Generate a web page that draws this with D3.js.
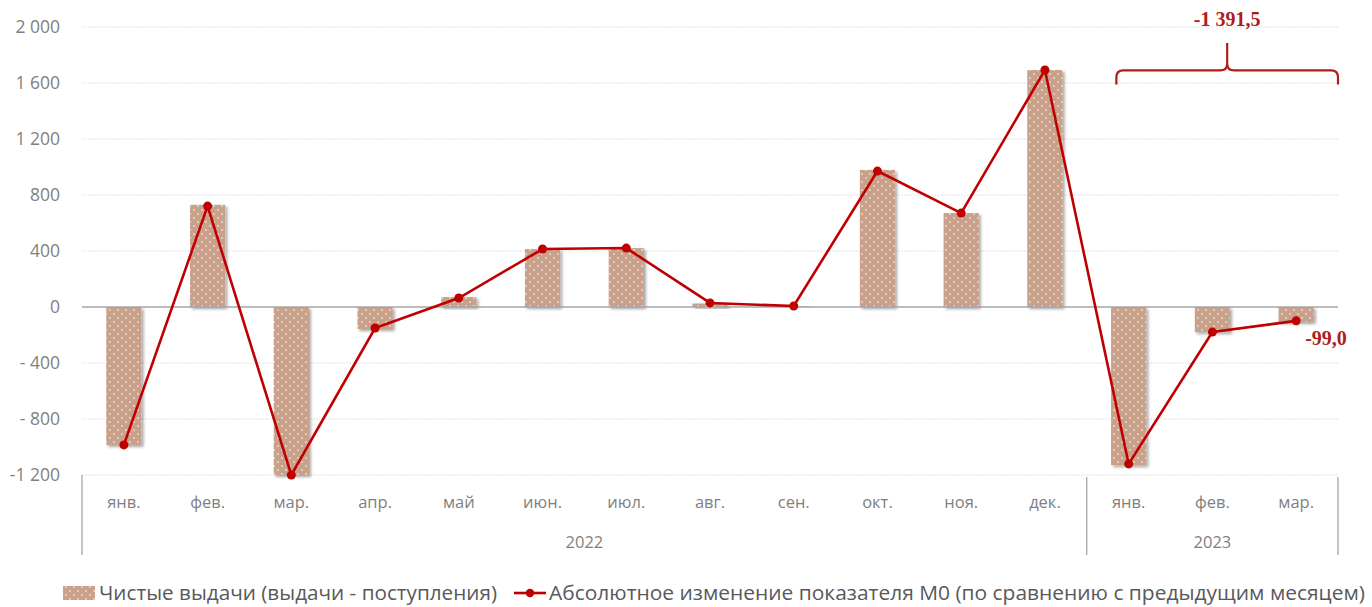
<!DOCTYPE html>
<html>
<head>
<meta charset="utf-8">
<script src="https://cdn.jsdelivr.net/npm/d3@7"></script>
<style>
  body { margin: 0; background: #fff; }
  svg { display: block; font-family: "Open Sans", "Noto Sans", sans-serif; }
</style>
</head>
<body>
<div id="chart"></div>
<script>
// Months shown on the x axis and the year each one belongs to.
const months = ['янв.', 'фев.', 'мар.', 'апр.', 'май', 'июн.', 'июл.', 'авг.', 'сен.', 'окт.', 'ноя.', 'дек.', 'янв.', 'фев.', 'мар.'];
const years = ['2022', '2022', '2022', '2022', '2022', '2022', '2022', '2022', '2022', '2022', '2022', '2022', '2023', '2023', '2023'];

// Bars: net issues (issues - receipts).
const net_issues = [-985, 730, -1200, -157, 71, 414, 421, 25, 5, 979, 671, 1693, -1129, -179, -107];
// Line: absolute change of M0 vs previous month.
const m0_change = [-985, 721, -1200, -150, 64, 414, 421, 29, 7, 971, 671, 1693, -1121, -179, -99];

const y_ticks = [2000, 1600, 1200, 800, 400, 0, -400, -800, -1200];
const y_tick_labels = ['2 000', '1 600', '1 200', '800', '400', '0', '- 400', '- 800', '-1 200'];

const series_names = ['Чистые выдачи (выдачи - поступления)', 'Абсолютное изменение показателя М0 (по сравнению с предыдущим месяцем)'];
const total_2023_label = '-1 391,5';
const last_value_label = '-99,0';

const width = 1372, height = 607;
const margin = { top: 27, right: 34, bottom: 132, left: 82 };
const bar_color = '#c9a18a';
const line_color = '#c00000';
const text_gray = '#7f7f7f';

const svg = d3.select('#chart').append('svg')
  .attr('width', width)
  .attr('height', height);

// Dotted fill and soft shadow for the bars.
const defs = svg.append('defs');
const pat = defs.append('pattern')
  .attr('id', 'dots')
  .attr('patternUnits', 'userSpaceOnUse')
  .attr('width', 8).attr('height', 8);
pat.append('rect').attr('width', 8).attr('height', 8).attr('fill', bar_color);
pat.append('circle').attr('cx', 2).attr('cy', 2).attr('r', 0.8).attr('fill', '#fff');
pat.append('circle').attr('cx', 6).attr('cy', 6).attr('r', 0.8).attr('fill', '#fff');

const shadow = defs.append('filter').attr('id', 'shadow')
  .attr('x', '-20%').attr('y', '-20%').attr('width', '150%').attr('height', '150%');
shadow.append('feDropShadow')
  .attr('dx', 2).attr('dy', 2).attr('stdDeviation', 1.5)
  .attr('flood-color', '#000').attr('flood-opacity', 0.35);

const x = d3.scaleBand()
  .domain(d3.range(months.length))
  .range([margin.left, width - margin.right])
  .paddingInner(0.58)
  .paddingOuter(0.29);

const y = d3.scaleLinear()
  .domain([-1200, 2000])
  .range([height - margin.bottom, margin.top]);

const step = x.step();
const slot_center = i => x(i) + x.bandwidth() / 2;

// Gridlines.
svg.append('g')
  .selectAll('line')
  .data(y_ticks.filter(d => d !== 0))
  .enter().append('line')
    .attr('x1', margin.left)
    .attr('x2', width - margin.right)
    .attr('y1', d => y(d))
    .attr('y2', d => y(d))
    .attr('stroke', '#e3e3e3')
    .attr('stroke-width', 1)
    .attr('stroke-dasharray', '2,1');

// Y axis labels.
const y_axis = svg.append('g')
  .attr('transform', 'translate(' + (margin.left - 19) + ',0)')
  .call(d3.axisLeft(y).tickValues(y_ticks).tickSize(0).tickFormat((d, i) => y_tick_labels[i]));
y_axis.select('.domain').remove();
y_axis.selectAll('text')
  .attr('fill', text_gray)
  .attr('font-size', 17.5)
  .attr('font-family', '"Open Sans", sans-serif');

// Bars.
svg.append('g')
  .selectAll('rect')
  .data(net_issues)
  .enter().append('rect')
    .attr('x', (d, i) => x(i))
    .attr('y', d => y(Math.max(0, d)))
    .attr('width', x.bandwidth())
    .attr('height', d => Math.abs(y(d) - y(0)))
    .attr('fill', 'url(#dots)')
    .attr('filter', 'url(#shadow)');

// Zero line.
svg.append('line')
  .attr('x1', margin.left)
  .attr('x2', width - margin.right)
  .attr('y1', y(0))
  .attr('y2', y(0))
  .attr('stroke', '#a6a6a6')
  .attr('stroke-width', 1.3);

// Line series.
const line = d3.line()
  .x((d, i) => slot_center(i))
  .y(d => y(d));
svg.append('path')
  .datum(m0_change)
  .attr('d', line)
  .attr('fill', 'none')
  .attr('stroke', line_color)
  .attr('stroke-width', 2.6);
svg.append('g')
  .selectAll('circle')
  .data(m0_change)
  .enter().append('circle')
    .attr('cx', (d, i) => slot_center(i))
    .attr('cy', d => y(d))
    .attr('r', 4.5)
    .attr('fill', line_color);

// X axis: months row, year row and separators.
const axis_top = y(-1200);
const axis_bottom = axis_top + 80;
svg.append('g')
  .selectAll('text')
  .data(months)
  .enter().append('text')
    .attr('x', (d, i) => slot_center(i))
    .attr('y', axis_top + 33)
    .attr('text-anchor', 'middle')
    .attr('fill', text_gray)
    .attr('font-size', 16.5)
    .text(d => d);

const year_groups = d3.groups(d3.range(months.length), i => years[i]);
const boundaries = [margin.left].concat(year_groups.map(g => x(g[1][g[1].length - 1]) + x.bandwidth() + step * x.paddingInner() / 2));
boundaries[boundaries.length - 1] = width - margin.right;
svg.append('g')
  .selectAll('line')
  .data(boundaries)
  .enter().append('line')
    .attr('x1', d => d).attr('x2', d => d)
    .attr('y1', (d, i) => i === 0 ? axis_top : axis_top + 2)
    .attr('y2', axis_bottom)
    .attr('stroke', '#8c8c8c')
    .attr('stroke-width', 1);

svg.append('g')
  .selectAll('text')
  .data(year_groups)
  .enter().append('text')
    .attr('x', (g, i) => (boundaries[i] + boundaries[i + 1]) / 2)
    .attr('y', axis_top + 73)
    .attr('text-anchor', 'middle')
    .attr('fill', text_gray)
    .attr('font-size', 16.5)
    .text(g => g[0]);

// Brace over the 2023 months with the total.
const last_group = year_groups[year_groups.length - 1][1];
const bl = x(last_group[0]) + x.bandwidth() * 0.15;
const br = width - margin.right;
const bm = (bl + br) / 2;
const by = y(1690), bend = y(1590), btip = y(1885);
const r = 7;
const brace = d3.path();
brace.moveTo(bl, bend);
brace.lineTo(bl, by + r);
brace.quadraticCurveTo(bl, by, bl + r, by);
brace.lineTo(bm - r, by);
brace.quadraticCurveTo(bm, by, bm, by - r);
brace.lineTo(bm, btip);
brace.moveTo(bm, by - r);
brace.quadraticCurveTo(bm, by, bm + r, by);
brace.lineTo(br - r, by);
brace.quadraticCurveTo(br, by, br, by + r);
brace.lineTo(br, bend);
svg.append('path')
  .attr('d', brace.toString())
  .attr('fill', 'none')
  .attr('stroke', '#b01c1c')
  .attr('stroke-width', 2.2);

svg.append('text')
  .attr('x', bm)
  .attr('y', y(2000) - 1)
  .attr('text-anchor', 'middle')
  .attr('fill', '#b01c1c')
  .attr('font-family', '"Liberation Serif", serif')
  .attr('font-weight', 'bold')
  .attr('font-size', 20)
  .text(total_2023_label);

svg.append('text')
  .attr('x', slot_center(months.length - 1) + 9)
  .attr('y', y(m0_change[m0_change.length - 1]) + 24)
  .attr('fill', '#b01c1c')
  .attr('font-family', '"Liberation Serif", serif')
  .attr('font-weight', 'bold')
  .attr('font-size', 20)
  .text(last_value_label);

// Legend.
const legend = svg.append('g').attr('transform', 'translate(0,' + (height - 14) + ')');
legend.append('rect')
  .attr('x', 63).attr('y', -7)
  .attr('width', 32).attr('height', 14)
  .attr('fill', 'url(#dots)');
legend.append('text')
  .attr('x', 99).attr('y', 7)
  .attr('fill', '#595959')
  .attr('font-size', 20)
  .attr('textLength', 398)
  .attr('lengthAdjust', 'spacingAndGlyphs')
  .text(series_names[0]);
legend.append('line')
  .attr('x1', 514).attr('x2', 546)
  .attr('stroke', line_color)
  .attr('stroke-width', 2.6);
legend.append('circle')
  .attr('cx', 530).attr('r', 4.2)
  .attr('fill', line_color);
legend.append('text')
  .attr('x', 549).attr('y', 7)
  .attr('fill', '#595959')
  .attr('font-size', 20)
  .attr('textLength', 816)
  .attr('lengthAdjust', 'spacingAndGlyphs')
  .text(series_names[1]);
</script>
</body>
</html>
